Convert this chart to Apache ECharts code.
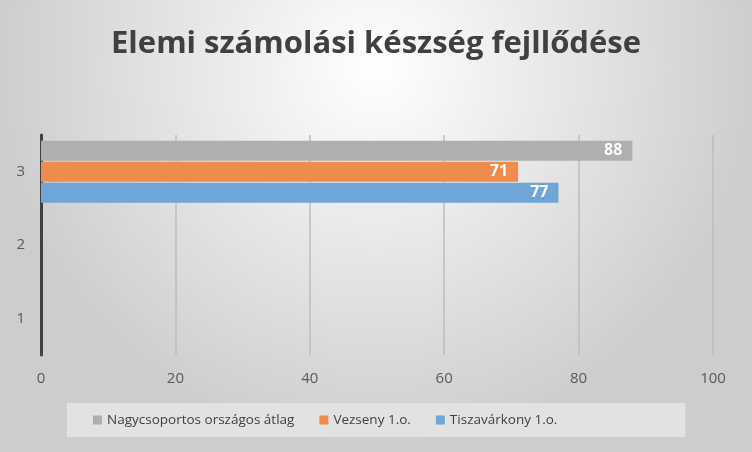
<!DOCTYPE html>
<html><head><meta charset="utf-8">
<script src="https://cdn.jsdelivr.net/npm/echarts@6/dist/echarts.min.js"></script>
<style>html,body{margin:0;padding:0;}#c{width:752px;height:452px;}</style>
</head><body><div id="c"></div>
<script>
const categories = ['1', '2', '3'];
const nagycsoportos = [null, null, 88];
const vezseny = [null, null, 71];
const tiszavarkony = [null, null, 77];
const xTicks = [0, 20, 40, 60, 80, 100];
const title = 'Elemi számolási készség fejllődése';
const seriesNames = ['Nagycsoportos országos átlag', 'Vezseny 1.o.', 'Tiszavárkony 1.o.'];

const chart = echarts.init(document.getElementById('c'));
const lbl = {show: true, position: 'insideRight', color: '#fff', fontWeight: 'bold', fontSize: 16, fontFamily: 'Open Sans', distance: 10};
chart.setOption({
  animation: false,
  backgroundColor: {type: 'radial', x: 0.5, y: 0.15, r: 0.85, colorStops: [{offset: 0, color: '#ffffff'}, {offset: 1, color: '#cdcdcd'}]},
  title: {text: title, left: 'center', top: 24, textStyle: {fontFamily: 'Open Sans', fontWeight: 'bold', fontSize: 31, color: '#404040'}},
  grid: {left: 41, right: 39, top: 135, bottom: 97},
  legend: {data: seriesNames, top: 403, left: 67, itemWidth: 9, itemHeight: 9, itemGap: 25, icon: 'rect',
    backgroundColor: '#e2e2e2', padding: [10, 128, 10, 26],
    textStyle: {fontFamily: 'Open Sans', fontSize: 13.5, color: '#404040'}},
  xAxis: {type: 'value', min: 0, max: 100, interval: 20,
    axisLine: {show: false}, axisTick: {show: false},
    axisLabel: {color: '#595959', fontSize: 15, fontFamily: 'Open Sans', margin: 16, formatter: v => xTicks.includes(v) ? String(v) : ''},
    splitLine: {lineStyle: {color: '#bdbdbd', width: 1.5}}},
  yAxis: {type: 'category', data: categories,
    axisLine: {lineStyle: {color: '#404040', width: 3}}, axisTick: {show: false},
    axisLabel: {color: '#595959', fontSize: 15, fontFamily: 'Open Sans', margin: 16}},
  series: [
    {name: seriesNames[0], type: 'bar', data: nagycsoportos, barWidth: 20, barGap: '5%', itemStyle: {color: '#afafaf'}, label: lbl},
    {name: seriesNames[1], type: 'bar', data: vezseny, barWidth: 20, barGap: '5%', itemStyle: {color: '#ee8c4e'}, label: lbl},
    {name: seriesNames[2], type: 'bar', data: tiszavarkony, barWidth: 20, barGap: '5%', itemStyle: {color: '#6fa6d8'}, label: lbl}
  ]
});
</script></body></html>
